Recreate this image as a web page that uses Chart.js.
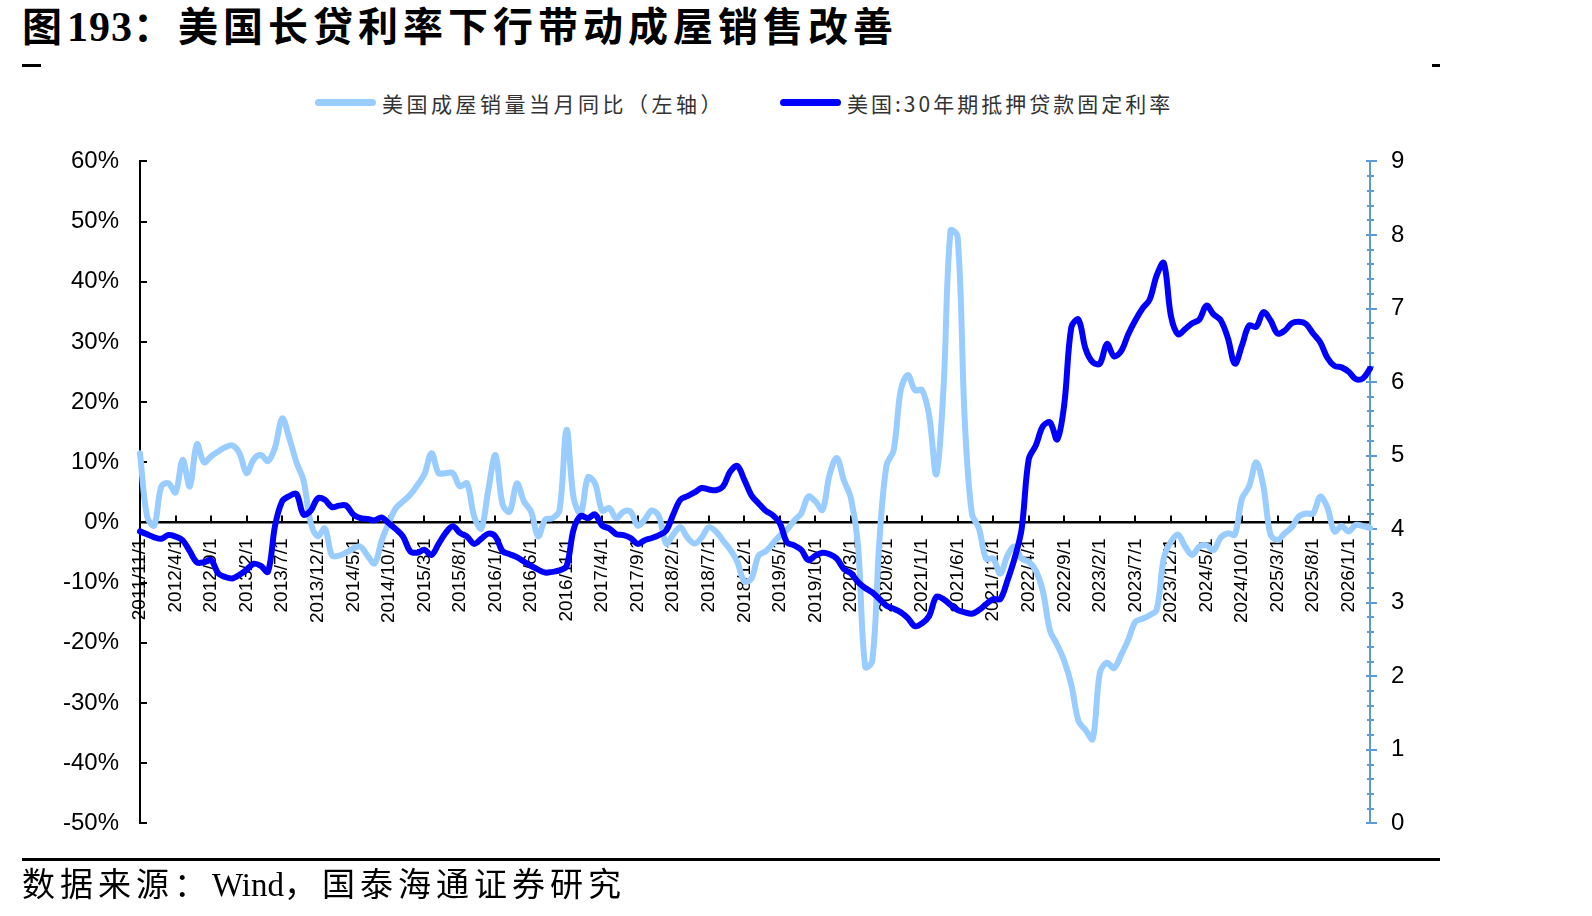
<!DOCTYPE html>
<html>
<head>
<meta charset="utf-8">
<script src="https://cdn.jsdelivr.net/npm/chart.js@4.4.0/dist/chart.umd.min.js"></script>
<style>
  body { margin: 0; width: 1592px; height: 916px; background: #fff; position: relative; overflow: hidden;
         font-family: "Noto Sans CJK SC", sans-serif; }
  #title { position: absolute; left: 22px; top: -2px; font-size: 40px; line-height: 52px; font-weight: 700;
           letter-spacing: 5px; color: #000; white-space: nowrap; }
  #title .num { font-family: "Liberation Serif", serif; font-weight: 700; font-size: 42px; letter-spacing: 1px; }
  .dash { position: absolute; height: 3px; background: #000; top: 64px; }
  .legline { position: absolute; height: 7px; border-radius: 4px; top: 99px; width: 61px; }
  .legtxt { position: absolute; top: 88px; font-size: 21px; line-height: 30px; letter-spacing: 3.5px; color: #333; white-space: nowrap; }
  #chartBox { position: absolute; left: 0; top: 130px; }
  #rule { position: absolute; left: 22px; top: 858px; width: 1418px; height: 3px; background: #000; }
  #source { position: absolute; left: 22px; top: 861px; font-size: 33px; line-height: 42px; letter-spacing: 5px; color: #000; white-space: nowrap; }
  #source .en { font-family: "Liberation Serif", serif; letter-spacing: 0; }
</style>
</head>
<body>
<div id="title">图<span class="num">193</span>：美国长贷利率下行带动成屋销售改善</div>
<div class="dash" style="left:22px;width:19px;"></div>
<div class="dash" style="left:1432px;width:8px;"></div>

<div class="legline" style="left:315px;background:#99CCFF;"></div>
<div class="legtxt" style="left:382px;">美国成屋销量当月同比（左轴）</div>
<div class="legline" style="left:780px;background:#0000FF;"></div>
<div class="legtxt" style="left:847px;letter-spacing:3px;">美国:30年期抵押贷款固定利率</div>

<div id="chartBox"><canvas id="c" width="1440" height="740"></canvas></div>

<div id="rule"></div>
<div id="source">数据来源：<span class="en">Wind</span>，国泰海通证券研究</div>

<script>
// monthly categories, 2011/11 onwards
const startYear = 2011;
const startMonth = 11;
const monthCount = 174;

// 美国成屋销量当月同比 (%), left axis
const salesYoY = [
  11.5, 1, -0.5, 6, 6.5, 5, 10.4, 6, 13, 10,
  11, 11.8, 12.5, 12.8, 11.5, 8.2, 10.5, 11.2, 10.2, 12.5,
  17.3, 14, 10, 7, 0, -2.3, -1, -5.5, -5.5, -5,
  -4.3, -4, -5.5, -6.8, -3, 0, 2.4, 3.5, 4.6, 6.2,
  8, 11.5, 8.2, 8.2, 8.2, 6, 6.5, 1, -1, 5.5,
  11.2, 3, 1.8, 6.5, 3.5, 1.8, -2.3, 0.5, 0.7, 2,
  15.4, 4, 1.5, 7.5, 6.5, 2, 2.4, 0.7, 1.8, 1.8,
  -0.5, 0.5, 2, 1, -3.5, -2, -0.8, -2.5, -3.5, -2.5,
  -0.8, -1.5, -3, -4.5, -6.5, -9.8, -9.3, -5.5, -4.8, -3.5,
  -2.2, -1.2, 0.3, 1.5, 4.3, 3.5, 2.1, 8, 10.7, 7,
  4, -4, -24, -23, -3, 9.5, 12, 22, 24.5, 22,
  22, 17.7, 8, 22, 48.5, 47.5, 17, 1.5, -1, -6,
  -6, -8.5, -5.5, -4, -6, -6.5, -8, -11.5, -18, -20.3,
  -23, -27, -33, -34.5, -36, -25, -23.3, -24.2, -22, -19.5,
  -16.5, -16, -15.4, -14.5, -5.9, -3.2, -2, -4, -5.4, -4,
  -3.8, -4.6, -2.5, -1.8, -2, 4, 6, 10, 6, -2,
  -2.9, -1.8, -0.8, 1, 1.5, 1.5, 4.3, 2.5, -1.5, -0.6,
  -1.5, -0.4, -0.6, -0.9
];

// 美国:30年期抵押贷款固定利率 (%), right axis
const mortgageRate = [
  3.97, 3.93, 3.89, 3.87, 3.92, 3.9, 3.85, 3.7, 3.55, 3.55,
  3.58, 3.4, 3.35, 3.33, 3.38, 3.45, 3.53, 3.5, 3.42, 4.05,
  4.38, 4.45, 4.48, 4.2, 4.25, 4.42, 4.4, 4.3, 4.32, 4.32,
  4.2, 4.15, 4.14, 4.12, 4.16, 4.08, 4.0, 3.9, 3.7, 3.68,
  3.72, 3.65, 3.8, 3.95, 4.04, 3.95, 3.9, 3.8, 3.87, 3.94,
  3.9, 3.7, 3.66, 3.62, 3.56, 3.5, 3.45, 3.41, 3.42, 3.44,
  3.5, 4.0, 4.18, 4.15, 4.2, 4.05, 4.01, 3.93, 3.92, 3.88,
  3.8, 3.85, 3.88, 3.92, 3.98, 4.2, 4.4, 4.45, 4.5, 4.56,
  4.54, 4.53, 4.58, 4.78, 4.86, 4.67, 4.46, 4.35, 4.25, 4.19,
  4.08, 3.82, 3.78, 3.72, 3.58, 3.64, 3.68, 3.66, 3.6, 3.46,
  3.4, 3.28, 3.2, 3.14, 3.05, 2.96, 2.92, 2.87, 2.79, 2.68,
  2.72, 2.82, 3.08, 3.05, 2.97, 2.9, 2.87, 2.85, 2.9, 2.98,
  3.05, 3.05, 3.3, 3.6, 4.0, 4.95, 5.14, 5.4, 5.45, 5.22,
  5.7, 6.75, 6.85, 6.45, 6.27, 6.25, 6.52, 6.35, 6.42, 6.65,
  6.84, 7.0, 7.12, 7.45, 7.62, 6.9, 6.65, 6.72, 6.8, 6.85,
  7.04, 6.92, 6.84, 6.6, 6.25, 6.5, 6.77, 6.75, 6.95, 6.84,
  6.66, 6.7, 6.8, 6.82, 6.79, 6.66, 6.54, 6.33, 6.22, 6.2,
  6.14, 6.04, 6.05, 6.18
];

// axis ticks
const leftTicks = [-50, -40, -30, -20, -10, 0, 10, 20, 30, 40, 50, 60];
const rightTicks = [0, 1, 2, 3, 4, 5, 6, 7, 8, 9];
const labelEvery = 5;

const categories = [];
for (let i = 0; i < monthCount; i++) {
  const m = startMonth - 1 + i;
  categories.push(`${startYear + Math.floor(m / 12)}/${(m % 12) + 1}/1`);
}

const LIGHT = "#99CCFF";
const DARK = "#0000FF";
const RIGHT_AXIS = "#5B9BD5";

// Excel-style tick marks: inward on the left axis, upward on the x axis, crossing on the right axis
const tickMarks = {
  id: "tickMarks",
  beforeDatasetsDraw(chart) {
    const { ctx, chartArea, scales } = chart;
    const { x, y, y1 } = scales;
    ctx.save();
    ctx.lineWidth = 2;
    ctx.strokeStyle = "#000";
    ctx.beginPath();
    leftTicks.forEach((v) => {
      const py = Math.round(y.getPixelForValue(v));
      ctx.moveTo(chartArea.left, py);
      ctx.lineTo(chartArea.left + 7, py);
    });
    const y0 = y.getPixelForValue(0);
    for (let i = labelEvery; i < categories.length; i += labelEvery) {
      const px = Math.round(x.getPixelForValue(i));
      ctx.moveTo(px, y0);
      ctx.lineTo(px, y0 - 7);
    }
    ctx.stroke();

    ctx.strokeStyle = RIGHT_AXIS;
    ctx.beginPath();
    for (let k = 0; k <= rightTicks[rightTicks.length - 1] * 5; k++) {
      const py = Math.round(y1.getPixelForValue(k / 5));
      const major = k % 5 === 0;
      ctx.moveTo(chartArea.right - (major ? 4 : 3), py);
      ctx.lineTo(chartArea.right + (major ? 7 : 4), py);
    }
    ctx.stroke();
    ctx.restore();
  },
};

// invisible tick length keeps the label gap without inflating the layout padding
const hiddenTickGrid = { drawOnChartArea: false, drawTicks: true, tickLength: 21, tickColor: "rgba(0,0,0,0)" };

new Chart(document.getElementById("c"), {
  type: "line",
  data: {
    labels: categories,
    datasets: [
      {
        label: "美国成屋销量当月同比（左轴）",
        data: salesYoY,
        yAxisID: "y",
        borderColor: LIGHT,
        backgroundColor: LIGHT,
        borderWidth: 6,
        pointRadius: 0,
        tension: 0.35,
        borderCapStyle: "round",
        borderJoinStyle: "round",
        order: 1,
      },
      {
        label: "美国:30年期抵押贷款固定利率",
        data: mortgageRate,
        yAxisID: "y1",
        borderColor: DARK,
        backgroundColor: DARK,
        borderWidth: 6,
        pointRadius: 0,
        tension: 0.35,
        borderCapStyle: "round",
        borderJoinStyle: "round",
        order: 0,
      },
    ],
  },
  options: {
    responsive: false,
    animation: false,
    devicePixelRatio: 1,
    layout: { padding: { left: 0, right: 0, top: 31.4, bottom: 46.6 } },
    plugins: {
      legend: { display: false },
      tooltip: { enabled: false },
    },
    scales: {
      x: {
        type: "category",
        offset: false,
        position: { y: 0 },
        grid: { drawOnChartArea: false, drawTicks: false },
        border: { color: "#000", width: 2.5 },
        ticks: {
          autoSkip: false,
          minRotation: 90,
          maxRotation: 90,
          padding: 16,
          color: "#000",
          font: { family: "Liberation Sans", size: 19 },
          callback: (val, idx) => (idx % labelEvery === 0 ? categories[idx] : null),
        },
      },
      y: {
        position: "left",
        min: leftTicks[0],
        max: leftTicks[leftTicks.length - 1],
        grid: hiddenTickGrid,
        border: { color: "#000", width: 2 },
        afterFit: (scale) => { scale.width = 140; },
        ticks: {
          stepSize: 10,
          padding: 0,
          color: "#000",
          font: { family: "Liberation Sans", size: 24 },
          callback: (v) => `${v}%`,
        },
      },
      y1: {
        position: "right",
        min: rightTicks[0],
        max: rightTicks[rightTicks.length - 1],
        grid: hiddenTickGrid,
        border: { color: RIGHT_AXIS, width: 2 },
        afterFit: (scale) => { scale.width = 70; },
        ticks: {
          stepSize: 1,
          padding: 0,
          color: "#000",
          font: { family: "Liberation Sans", size: 24 },
        },
      },
    },
  },
  plugins: [tickMarks],
});
</script>
</body>
</html>
